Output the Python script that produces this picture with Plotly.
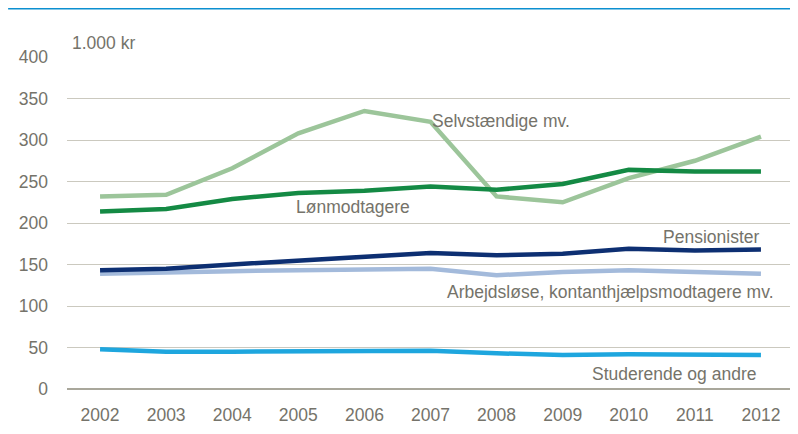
import plotly.graph_objects as go

years = ["2002", "2003", "2004", "2005", "2006", "2007", "2008", "2009", "2010", "2011", "2012"]
selvstaendige = [232, 234, 266, 308, 335, 322, 232, 225, 254, 275, 304]
loenmodtagere = [214, 217, 229, 236, 239, 244, 240, 247, 264, 262, 262]
pensionister = [143, 145, 150, 155, 159, 164, 161, 163, 169, 167, 168]
arbejdsloese = [139, 141, 142, 143, 144, 145, 137, 141, 143, 141, 139]
studerende = [48, 45, 45, 45, 46, 46, 43, 41, 42, 42, 41]

series = [
    ("Selvstændige mv.", selvstaendige, "#9cc59a"),
    ("Lønmodtagere", loenmodtagere, "#148a44"),
    ("Arbejdsløse, kontanthjælpsmodtagere mv.", arbejdsloese, "#a3badb"),
    ("Pensionister", pensionister, "#0d2f72"),
    ("Studerende og andre", studerende, "#1ea6de"),
]

FONT = "Liberation Sans, Arial, sans-serif"
TXT = "#75736a"
FS = 17.5

fig = go.Figure()
for name, vals, col in series:
    fig.add_trace(go.Scatter(x=years, y=vals, mode="lines", name=name,
                             line=dict(color=col, width=4.5), hoverinfo="skip"))

def lab(text, x, y, anchor):
    fig.add_annotation(text=text, x=x, y=y, xref="x", yref="y", showarrow=False,
                       xanchor=anchor, yanchor="middle",
                       font=dict(family=FONT, size=FS, color=TXT))

lab("Selvstændige mv.", 4.99, 323, "left")
lab("Lønmodtagere", 2.93, 219, "left")
lab("Pensionister", 10.0, 183, "right")
lab("Arbejdsløse, kontanthjælpsmodtagere mv.", 10.23, 117, "right")
lab("Studerende og andre", 9.95, 18, "right")

fig.add_annotation(text="1.000 kr", x=0.004, y=1.042, xref="paper", yref="paper",
                   showarrow=False, xanchor="left", yanchor="middle",
                   font=dict(family=FONT, size=FS, color=TXT))

fig.add_shape(type="line", xref="paper", yref="paper", x0=-0.081, x1=1.0,
              y0=1.1476, y1=1.1476, line=dict(color="#0c8fd0", width=3))

fig.update_layout(
    width=790, height=426,
    margin=dict(l=59, r=4, t=49, b=45),
    paper_bgcolor="white", plot_bgcolor="white",
    showlegend=False,
    font=dict(family=FONT, size=FS, color=TXT),
    xaxis=dict(type="category", range=[-0.5, 10.5], showgrid=False, zeroline=False,
               showline=False, ticks="", ticklabelstandoff=13,
               tickfont=dict(family=FONT, size=FS, color=TXT)),
    yaxis=dict(range=[0, 400], tickvals=[0, 50, 100, 150, 200, 250, 300, 350, 400],
               showgrid=True, gridcolor="#cbc9bf", gridwidth=1,
               zeroline=True, zerolinecolor="#a9a79b", zerolinewidth=1.5,
               showline=False, ticks="", ticklabelstandoff=18,
               tickfont=dict(family=FONT, size=FS, color=TXT)),
)

fig.write_html("out.html")
